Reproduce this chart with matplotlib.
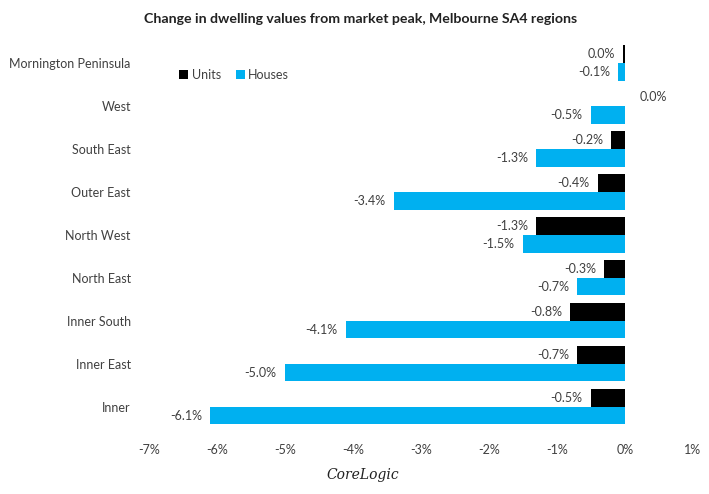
import matplotlib.pyplot as plt
import numpy as np

# data (top to bottom as in the chart)
regions = ["Mornington Peninsula", "West", "South East", "Outer East", "North West",
           "North East", "Inner South", "Inner East", "Inner"]
units = [-0.03, 0.0, -0.2, -0.4, -1.3, -0.3, -0.8, -0.7, -0.5]
houses = [-0.1, -0.5, -1.3, -3.4, -1.5, -0.7, -4.1, -5.0, -6.1]
xticks = [-7, -6, -5, -4, -3, -2, -1, 0, 1]

plt.rcParams['font.family'] = ['Lato', 'DejaVu Sans']
txt = "#404040"
blue = "#00B0F0"

fig = plt.figure(figsize=(7.09, 4.94), dpi=100)
ax = fig.add_axes([0.210, 0.133, 0.767, 0.783])

y = np.arange(len(regions))
h = 0.41
ax.barh(y - h / 2, units, height=h, color="black", label="Units")
ax.barh(y + h / 2, houses, height=h, color=blue, label="Houses")

def lab(v):
    s = "%.1f%%" % v
    return "0.0%" if s == "-0.0%" else s

for i in range(len(regions)):
    for v, yy in ((units[i], y[i] - h / 2), (houses[i], y[i] + h / 2)):
        if v < 0:
            ax.text(v - 0.12, yy, lab(v), ha="right", va="center", fontsize=9, color=txt)
        else:
            ax.text(v + 0.22, yy, lab(v), ha="left", va="center", fontsize=9, color=txt)

ax.set_ylim(len(regions) - 0.5, -0.5)
ax.set_xlim(-7, 1)
ax.set_xticks(xticks)
ax.set_xticklabels(["%d%%" % t for t in xticks])
ax.set_yticks(y)
ax.set_yticklabels(regions)
ax.tick_params(length=0, labelsize=9, colors=txt)
ax.tick_params(axis="y", pad=13)
ax.tick_params(axis="x", pad=11)
for s in ax.spines.values():
    s.set_visible(False)

ax.legend(loc="upper left", bbox_to_anchor=(0.035, 0.958), ncol=2, frameon=False,
          fontsize=9, handlelength=0.7, handleheight=0.7, handletextpad=0.3,
          columnspacing=1.2, labelcolor=txt)

fig.text(0.508, 0.962, "Change in dwelling values from market peak, Melbourne SA4 regions",
         ha="center", va="center", fontsize=10.2, fontweight="bold", color="#222222")
fig.text(0.512, 0.038, "CoreLogic", ha="center", va="center", fontsize=10,
         style="italic", family="DejaVu Serif", color="#222222")

plt.savefig("out.png", dpi=100)
